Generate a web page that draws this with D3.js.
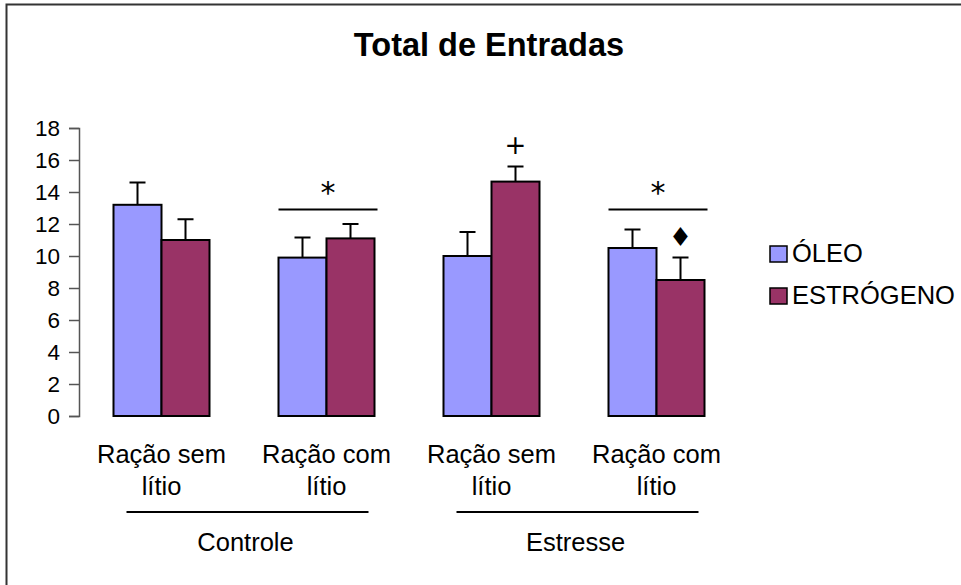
<!DOCTYPE html>
<html>
<head>
<meta charset="utf-8">
<script src="https://cdn.jsdelivr.net/npm/d3@7"></script>
<style>
  body { margin: 0; background: #fff; }
  text { font-family: "Liberation Sans", Arial, sans-serif; fill: #000; }
</style>
</head>
<body>
<div id="chart"></div>
<script>
// categories and series
var categories = ["Ração sem|lítio", "Ração com|lítio", "Ração sem|lítio ", "Ração com|lítio "];
var series = ["ÓLEO", "ESTRÓGENO"];
var colors = ["#9999ff", "#993366"];

var oleo = [13.2, 9.9, 10.0, 10.5];
var oleoErr = [1.4, 1.25, 1.5, 1.15];
var estrogeno = [11.0, 11.1, 14.65, 8.5];
var estrogenoErr = [1.3, 0.9, 0.95, 1.4];

var yTicks = [0, 2, 4, 6, 8, 10, 12, 14, 16, 18];

// group labels: name, first and last category index
var groups = [["Controle", 0, 1], ["Estresse", 2, 3]];

// significance marks: category index, level of line, symbol
var brackets = [[1, 12.9, "*"], [3, 12.9, "*"]];
// single marks above one bar: category, series index, symbol
var marks = [[2, 1, "+"], [3, 1, "\u2666"]];

var width = 961, height = 585;

var svg = d3.select("#chart").append("svg")
    .attr("width", width)
    .attr("height", height)

// frame (only left and top visible)
svg.append("path")
    .attr("d", "M6.5,585 L6.5,4.5 L961,4.5")
    .attr("fill", "none")
    .attr("stroke", "#333")
    .attr("stroke-width", 2)

// title
svg.append("text")
    .attr("x", 489)
    .attr("y", 56)
    .attr("text-anchor", "middle")
    .style("font-size", "32.5px")
    .style("font-weight", "bold")
    .text("Total de Entradas")

var y = d3.scaleLinear()
    .domain([0, 18])
    .range([416, 128]);

var x0 = d3.scaleBand()
    .domain(categories)
    .range([79, 739])
    .padding(0);

var x1 = d3.scaleBand()
    .domain(series)
    .range([0, 96]);

var off = (x0.bandwidth() - 96) / 2;

// y axis
var yAxis = d3.axisLeft(y).tickValues(yTicks).tickSize(10).tickPadding(9);
var ga = svg.append("g")
    .attr("transform", "translate(79,0)")
    .call(yAxis)
ga.select(".domain").attr("stroke", "#555").attr("stroke-width", 1.5)
ga.selectAll(".tick line").attr("stroke", "#555").attr("stroke-width", 1.5)
ga.selectAll(".tick text")
    .style("font-size", "22.5px")
    .style("font-family", "'Liberation Sans', Arial, sans-serif")
    .attr("fill", "#000")

var values = [oleo, estrogeno];
var errs = [oleoErr, estrogenoErr];

// bars
series.forEach(function (s, si) {
    var g = svg.append("g").attr("class", "series-" + si);
    g.selectAll("rect")
        .data(categories)
        .enter()
        .append("rect")
        .attr("x", function (c) { return x0(c) + off + x1(s); })
        .attr("y", function (c, i) { return y(values[si][i]); })
        .attr("width", x1.bandwidth())
        .attr("height", function (c, i) { return y(0) - y(values[si][i]); })
        .attr("fill", colors[si])
        .attr("stroke", "#000")
        .attr("stroke-width", 2)

    // error bars
    g.selectAll("path.err")
        .data(categories)
        .enter()
        .append("path")
        .attr("class", "err")
        .attr("d", function (c, i) {
            var cx = x0(c) + off + x1(s) + x1.bandwidth() / 2;
            var top = y(values[si][i] + errs[si][i]);
            return "M" + cx + "," + y(values[si][i]) + "L" + cx + "," + top +
                "M" + (cx - 8) + "," + top + "L" + (cx + 8) + "," + top;
        })
        .attr("stroke", "#000")
        .attr("stroke-width", 2)
        .attr("fill", "none")
})

// category labels (two lines)
categories.forEach(function (c) {
    var lines = c.trim().split("|");
    var cx = x0(c) + x0.bandwidth() / 2;
    lines.forEach(function (l, li) {
        svg.append("text")
            .attr("x", cx)
            .attr("y", 463 + li * 32)
            .attr("text-anchor", "middle")
            .style("font-size", "25.5px")
            .text(l)
    })
})

// group labels
groups.forEach(function (gr) {
    var a = x0(categories[gr[1]]) + x0.bandwidth() / 2 - 35;
    var b = x0(categories[gr[2]]) + x0.bandwidth() / 2 + 42;
    svg.append("line")
        .attr("x1", a).attr("x2", b)
        .attr("y1", 512).attr("y2", 512)
        .attr("stroke", "#000")
        .attr("stroke-width", 2)
    svg.append("text")
        .attr("x", (a + b) / 2 - 2)
        .attr("y", 551)
        .attr("text-anchor", "middle")
        .style("font-size", "25.5px")
        .text(gr[0])
})

// significance brackets
brackets.forEach(function (bk) {
    var c = categories[bk[0]];
    var a = x0(c) + off;
    var b = x0(c) + off + 96 + 3;
    svg.append("line")
        .attr("x1", a).attr("x2", b)
        .attr("y1", y(bk[1])).attr("y2", y(bk[1]))
        .attr("stroke", "#000")
        .attr("stroke-width", 2)
    svg.append("text")
        .attr("x", (a + b) / 2)
        .attr("y", y(bk[1]) - 7)
        .attr("text-anchor", "middle")
        .style("font-size", "30px")
        .style("font-family", "'DejaVu Sans', sans-serif")
        .text(bk[2])
})

// marks above bars
marks.forEach(function (m) {
    var c = categories[m[0]];
    var s = series[m[1]];
    var cx = x0(c) + off + x1(s) + x1.bandwidth() / 2;
    var top = y(values[m[1]][m[0]] + errs[m[1]][m[0]]);
    svg.append("text")
        .attr("x", cx)
        .attr("y", top - 12)
        .attr("text-anchor", "middle")
        .style("font-size", "26px")
        .style("font-family", "'DejaVu Sans', sans-serif")
        .text(m[2])
})

// legend
var legend = svg.append("g").attr("transform", "translate(770,246)");
series.forEach(function (s, i) {
    legend.append("rect")
        .attr("x", 0)
        .attr("y", i * 42)
        .attr("width", 17)
        .attr("height", 16)
        .attr("fill", colors[i])
        .attr("stroke", "#000")
        .attr("stroke-width", 1.5)
    legend.append("text")
        .attr("x", 22)
        .attr("y", i * 42 + 16)
        .style("font-size", "25.5px")
        .text(s)
})
</script>
</body>
</html>
